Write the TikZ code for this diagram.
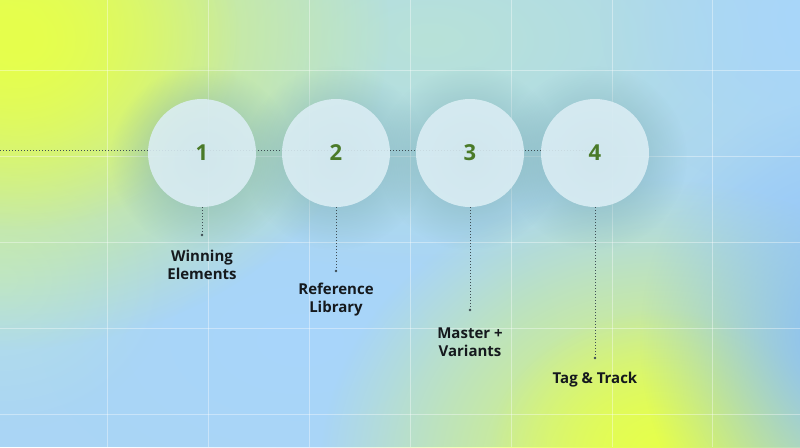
\documentclass[tikz,border=0pt]{standalone}
\usepackage{fontspec}
\setmainfont{Open Sans}
\usetikzlibrary{fadings}
\tikzfading[name=blob, inner color=transparent!0, outer color=transparent!100]
\definecolor{bgblue}{HTML}{AAD5F5}
\definecolor{ylw}{HTML}{E6FF4C}
\definecolor{teal1}{HTML}{B8E2D8}
\definecolor{teal2}{HTML}{B4DFE6}
\definecolor{deepblue}{HTML}{88BEF8}
\definecolor{ltblue}{HTML}{A8D6FB}
\definecolor{shadowc}{HTML}{78AAB0}
\definecolor{circfill}{HTML}{DCEEF5}
\definecolor{numgreen}{HTML}{4A7A28}
\definecolor{labelc}{HTML}{15191D}
\definecolor{dotc}{HTML}{3F4E55}
\begin{document}
\begin{tikzpicture}[x=1pt,y=-1pt,
  gridline/.style={draw=white, line width=0.8pt, opacity=0.38},
  stepcircle/.style={circle, fill=circfill, fill opacity=0.88, text opacity=1, minimum size=108pt, inner sep=0pt,
     font=\fontsize{22}{24}\selectfont\bfseries, text=numgreen},
  dotline/.style={draw=dotc, line width=0.9pt, dash pattern=on 0.9pt off 2.1pt},
  enddot/.style={fill=dotc},
  lbl/.style={align=center, font=\fontsize{15}{18}\selectfont\bfseries, text=labelc, inner sep=0pt},
  shadowblob/.style={fill=shadowc, path fading=blob, fill opacity=0.8}
]
\useasboundingbox (0,0) rectangle (800,447);
\begin{scope}
\clip (0,0) rectangle (800,447);
\fill[bgblue] (0,0) rectangle (800,447);
\fill[ltblue, path fading=blob] (300,340) ellipse (260 and 160);
\fill[teal2, path fading=blob] (0,280) ellipse (170 and 150);
\fill[teal1, path fading=blob] (430,40) ellipse (450 and 230);
\fill[ltblue, path fading=blob] (820,20) ellipse (220 and 180);
\fill[ylw, path fading=blob] (0,30) ellipse (390 and 320);
\fill[ylw, path fading=blob] (20,40) ellipse (220 and 190);
\fill[ylw, path fading=blob] (660,470) ellipse (340 and 290);
\fill[ylw, path fading=blob] (660,450) ellipse (170 and 140);
\fill[deepblue, path fading=blob] (840,340) ellipse (200 and 240);
\foreach \x in {107,208,309,410,511,612,712} \draw[gridline] (\x,0) -- (\x,447);
\foreach \y in {70,156,242,328,414} \draw[gridline] (0,\y) -- (800,\y);
\foreach \cx in {202,336,470,595} \fill[shadowblob] (\cx,158) circle (92);
\end{scope}
\coordinate (lstart) at (0,150);
\coordinate (lend) at (595,150);
\draw[dotline] (lstart) -- (lend);
\node[stepcircle] (c1) at (202,153) {1};
\node[stepcircle] (c2) at (336,153) {2};
\node[stepcircle] (c3) at (470,153) {3};
\node[stepcircle] (c4) at (595,153) {4};
\coordinate (e1) at (202,235);
\coordinate (e2) at (336,271);
\coordinate (e3) at (470,310);
\coordinate (e4) at (595,358);
\draw[dotline] (c1.south) -- (e1);
\draw[dotline] (c2.south) -- (e2);
\draw[dotline] (c3.south) -- (e3);
\draw[dotline] (c4.south) -- (e4);
\foreach \e in {e1,e2,e3,e4} \fill[enddot] (\e) circle (1.4);
\node[lbl] (l1) at (202,265) {Winning\\Elements};
\node[lbl] (l2) at (336,300) {Reference\\Library};
\node[lbl] (l3) at (470,342) {Master +\\Variants};
\node[lbl] (l4) at (595,380) {Tag \& Track};
\end{tikzpicture}
\end{document}
